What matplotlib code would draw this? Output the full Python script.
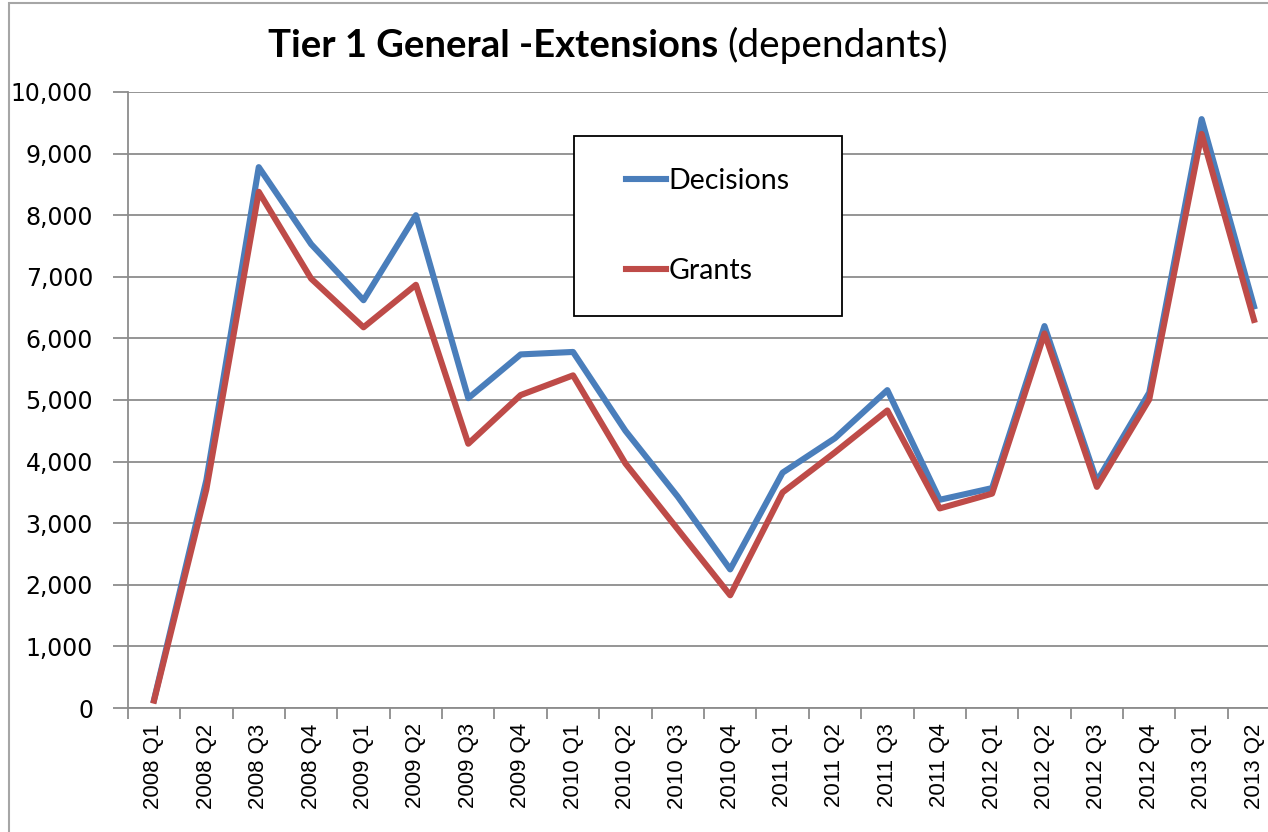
import matplotlib
matplotlib.use("Agg")
import matplotlib.pyplot as plt
import matplotlib.ticker as mtick
from matplotlib.patches import Rectangle

quarters = [
    "2008 Q1", "2008 Q2", "2008 Q3", "2008 Q4",
    "2009 Q1", "2009 Q2", "2009 Q3", "2009 Q4",
    "2010 Q1", "2010 Q2", "2010 Q3", "2010 Q4",
    "2011 Q1", "2011 Q2", "2011 Q3", "2011 Q4",
    "2012 Q1", "2012 Q2", "2012 Q3", "2012 Q4",
    "2013 Q1", "2013 Q2",
]
decisions = [130, 3700, 8780, 7530, 6620, 8000, 5030, 5740, 5780, 4500, 3430,
             2250, 3820, 4380, 5160, 3380, 3570, 6200, 3680, 5120, 9560, 6520]
grants = [120, 3550, 8380, 6970, 6180, 6870, 4290, 5080, 5400, 3970, 2900,
          1830, 3500, 4150, 4830, 3240, 3480, 6080, 3590, 5010, 9320, 6300]
y_ticks = list(range(0, 10001, 1000))

W, H = 1268, 832
BLUE = "#4A7EBB"
RED = "#BE4B48"
GRID = "#8c8c8c"


def px(x, y):
    """pixel (from top-left) to figure fraction"""
    return x / W, 1 - y / H


def main():
    fig = plt.figure(figsize=(W / 100, H / 100), dpi=100)
    # outer chart border, cropped on the right and bottom
    fig.patches.append(Rectangle((9 / W, -0.05), 1.2, 1 - 3 / H + 0.05,
                                 transform=fig.transFigure, fill=False,
                                 edgecolor="#a6a6a6", linewidth=1.5))

    left, bottom = px(127.8, 708)
    ax = fig.add_axes([left, bottom, 1152.4 / W, 616 / H])

    x = list(range(len(quarters)))
    ax.plot(x, decisions, color=BLUE, linewidth=4.4, label="Decisions",
            solid_joinstyle="round", zorder=3)
    ax.plot(x, grants, color=RED, linewidth=4.4, label="Grants",
            solid_joinstyle="round", zorder=4)

    ax.set_xlim(-0.5, len(quarters) - 0.5)
    ax.set_ylim(0, 10000)
    ax.set_yticks(y_ticks)
    ax.yaxis.set_major_formatter(mtick.FuncFormatter(lambda v, _: f"{v:,.0f}"))
    ax.set_xticks(x)
    ax.set_xticklabels(quarters, rotation=90, fontsize=16,
                       family="Liberation Sans")
    ax.set_xticks([i - 0.5 for i in range(len(quarters) + 1)], minor=True)
    ax.tick_params(axis="x", which="major", length=0, pad=11)
    ax.tick_params(axis="x", which="minor", length=8, color=GRID, width=1.3)
    ax.tick_params(axis="y", length=11, color=GRID, width=1.3, pad=14,
                   labelsize=17)
    for lab in ax.get_yticklabels():
        lab.set_family("DejaVu Sans")

    ax.grid(axis="y", color=GRID, linewidth=1.3, zorder=0)
    ax.set_axisbelow(True)
    for side in ("top", "right"):
        ax.spines[side].set_visible(False)
    for side in ("left", "bottom"):
        ax.spines[side].set_color(GRID)
        ax.spines[side].set_linewidth(1.3)

    # legend box
    bx, by = px(574, 316)
    fig.patches.append(Rectangle((bx, by), 268 / W, 180 / H,
                                 transform=fig.transFigure, facecolor="white",
                                 edgecolor="black", linewidth=1.3, zorder=5))
    fig.legend(loc="center", bbox_to_anchor=px(708, 226), frameon=False,
               prop={"family": "Lato", "size": 20.5}, handlelength=1.4,
               handletextpad=0.08, labelspacing=2.25)

    # title, bold part + normal part
    tx, ty = px(718, 57)
    fig.text(tx, ty, "Tier 1 General -Extensions", ha="right", va="baseline",
             fontsize=27.5, fontweight="bold", family="Lato")
    fig.text(tx + 9 / W, ty, "(dependants)", ha="left", va="baseline",
             fontsize=28, family="Lato")

    fig.savefig("out.png", dpi=100)


if __name__ == "__main__":
    main()
